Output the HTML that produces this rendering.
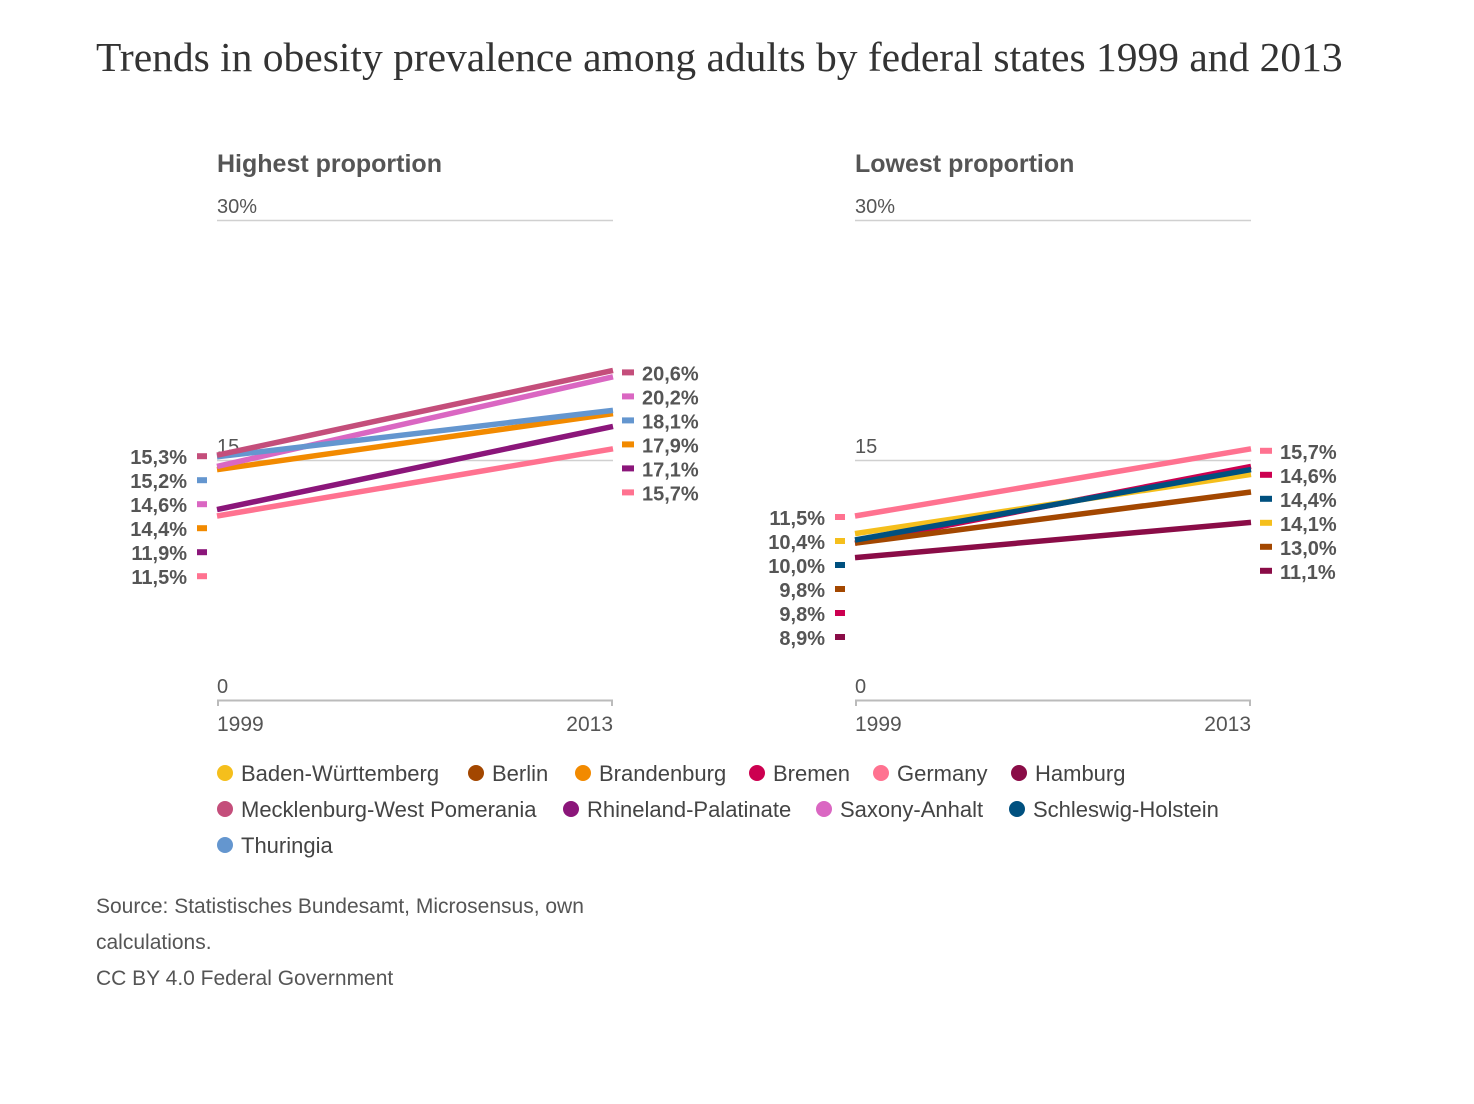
<!DOCTYPE html>
<html><head><meta charset="utf-8">
<style>
body{margin:0;background:#fff;width:1474px;height:1099px;overflow:hidden;font-family:"Liberation Sans",sans-serif;}
svg text{font-family:"Liberation Sans",sans-serif;}
</style></head>
<body>
<svg id="chart" width="1474" height="1099">
<text x="96" y="71" font-size="41.5" fill="#333" style="font-family:'Liberation Serif',serif">Trends in obesity prevalence among adults by federal states 1999 and 2013</text>
<g id="panels"></g>
<g id="legend"></g>
<text x="96" y="913" font-size="21" fill="#555">Source: Statistisches Bundesamt, Microsensus, own</text>
<text x="96" y="949" font-size="21" fill="#555">calculations.</text>
<text x="96" y="985" font-size="21" fill="#555">CC BY 4.0 Federal Government</text>
</svg>
<script>
const years = ["1999","2013"];
const highNames = ["Mecklenburg-West Pomerania","Thuringia","Saxony-Anhalt","Brandenburg","Rhineland-Palatinate","Germany"];
const high1999 = [15.3,15.2,14.6,14.4,11.9,11.5];
const high2013 = [20.6,18.1,20.2,17.9,17.1,15.7];
const lowNames = ["Germany","Schleswig-Holstein","Baden-Württemberg","Berlin","Bremen","Hamburg"];
const low1999 = [11.5,10.0,10.4,9.8,9.8,8.9];
const low2013 = [15.7,14.4,14.1,13.0,14.6,11.1];
const legendNames = ["Baden-Württemberg","Berlin","Brandenburg","Bremen","Germany","Hamburg","Mecklenburg-West Pomerania","Rhineland-Palatinate","Saxony-Anhalt","Schleswig-Holstein","Thuringia"];
const colors = {"Baden-Württemberg":"#f5bf1c","Berlin":"#a34700","Brandenburg":"#f28a00","Bremen":"#cc0050","Germany":"#ff7290","Hamburg":"#8a0c47","Mecklenburg-West Pomerania":"#c44e7b","Rhineland-Palatinate":"#8b167a","Saxony-Anhalt":"#da67c2","Schleswig-Holstein":"#00507f","Thuringia":"#6496cf"};
const NS="http://www.w3.org/2000/svg";
function mk(tag,attrs,parent){const e=document.createElementNS(NS,tag);for(const k in attrs)e.setAttribute(k,attrs[k]);parent.appendChild(e);return e;}
const y=v=>700-v*16;
const fmt=v=>v.toFixed(1).replace('.',',')+'%';
function panel(x0,title,names,a,b,key){
  const g=mk('g',{},document.getElementById('panels'));
  
  
  const x1=x0+396;
  let t=mk('text',{x:x0,y:172,'font-size':25,'font-weight':'bold',fill:'#555'},g);t.textContent=title;
  
  
  [[30,'30%'],[15,'15'],[0,'0']].forEach(([v,l])=>{
    const ln=mk('line',{x1:x0,x2:x1,y1:y(v)+0.5,y2:y(v)+0.5,stroke:v==0?'#bbb':'#d0d0d0','stroke-width':v==0?2:1.5},g);
    
    
    const tx=mk('text',{x:x0,y:y(v)-7,'font-size':20,fill:'#555'},g);tx.textContent=l;
    
    
  });
  mk('line',{x1:x0+1,x2:x0+1,y1:700,y2:706,stroke:'#bbb','stroke-width':2},g);
  mk('line',{x1:x1-1,x2:x1-1,y1:700,y2:706,stroke:'#bbb','stroke-width':2},g);
  let yl=mk('text',{x:x0,y:731,'font-size':21,fill:'#555'},g);yl.textContent=years[0];
  
  
  yl=mk('text',{x:x1,y:731,'font-size':21,fill:'#555','text-anchor':'end'},g);yl.textContent=years[1];
  
  
  for(let i=names.length-1;i>=0;i--){
    const l=mk('line',{x1:x0,y1:y(a[i]),x2:x1,y2:y(b[i]),stroke:colors[names[i]],'stroke-width':5.5},g);
    
    
  }
  const ls=names.map((n,i)=>[n,a[i]]).sort((p,q)=>q[1]-p[1]);
  const topL=y(ls[0][1])+1;
  ls.forEach(([n,v],k)=>{
    const yy=topL+k*24;
    mk('rect',{x:x0-20,y:yy-3,width:10,height:6,fill:colors[n]},g);
    const tx=mk('text',{x:x0-30,y:yy+8,'font-size':20,'font-weight':'bold',fill:'#555','text-anchor':'end'},g);tx.textContent=fmt(v);
    
    
  });
  const rs=names.map((n,i)=>[n,b[i]]).sort((p,q)=>q[1]-p[1]);
  const topR=y(rs[0][1])+2;
  rs.forEach(([n,v],k)=>{
    const yy=topR+k*24;
    mk('rect',{x:x1+9,y:yy-3,width:12,height:6,fill:colors[n]},g);
    const tx=mk('text',{x:x1+29,y:yy+8,'font-size':20,'font-weight':'bold',fill:'#555'},g);tx.textContent=fmt(v);
    
    
  });
}
panel(217,'Highest proportion',highNames,high1999,high2013,'highest');
panel(855,'Lowest proportion',lowNames,low1999,low2013,'lowest');
const lg=document.getElementById('legend');
const rowsX=[[217,468,575,749,873,1011],[217,563,816,1009],[217]];
let idx=0;
rowsX.forEach((r,ri)=>{r.forEach(x=>{
  const n=legendNames[idx++];
  const yy=773+ri*36;
  const c=mk('circle',{cx:x+8,cy:yy,r:8,fill:colors[n]},lg);
  
  
  const t=mk('text',{x:x+24,y:yy+8,'font-size':22,fill:'#444'},lg);t.textContent=n;
  
  
});});
</script>
</body></html>
